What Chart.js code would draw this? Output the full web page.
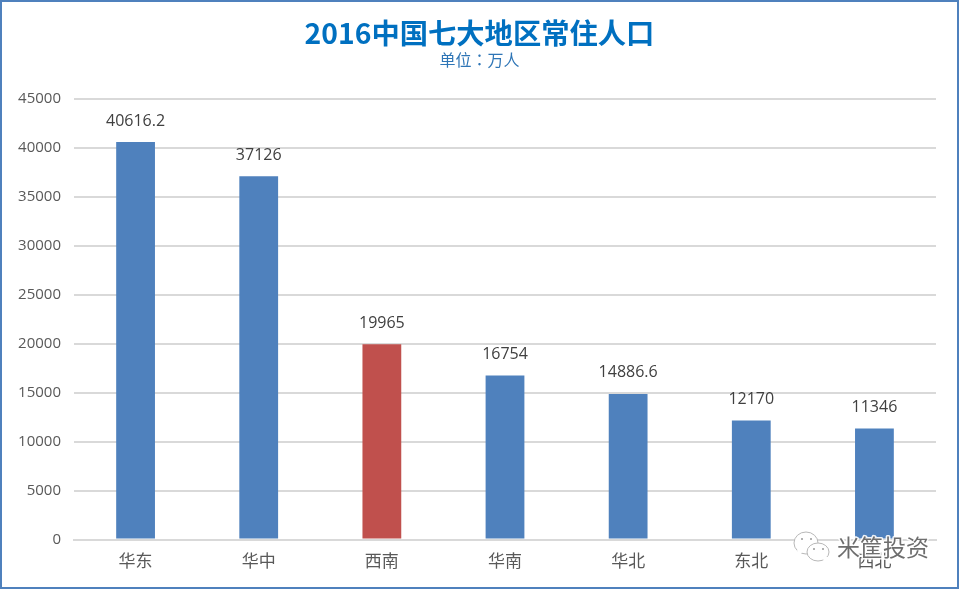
<!DOCTYPE html>
<html><head><meta charset="utf-8">
<script src="https://cdn.jsdelivr.net/npm/chart.js@4"></script>
<style>
html,body{margin:0;padding:0;background:#fff;overflow:hidden}
#wrap{position:absolute;left:0;top:0;width:959px;height:589px}
</style></head>
<body><div id="wrap"><canvas id="c" width="959" height="589"></canvas></div>
<script>
const categories = ["华东","华中","西南","华南","华北","东北","西北"];
const population = [40616.2,37126,19965,16754,14886.6,12170,11346];
const barColors = ["#4f81bd","#4f81bd","#c0504d","#4f81bd","#4f81bd","#4f81bd","#4f81bd"];
const titleText = "2016中国七大地区常住人口";
const subtitleText = "单位：万人";
const watermarkText = "米筐投资";
const FONT = '"Noto Sans CJK SC","Open Sans",sans-serif';
const NUMFONT = '"Open Sans","Noto Sans CJK SC",sans-serif';

const frame = {id:'frame',beforeDraw(ch){const x=ch.ctx;x.save();x.fillStyle='#fff';x.fillRect(0,0,ch.width,ch.height);x.restore();},
 afterDraw(ch){const x=ch.ctx;x.save();x.strokeStyle='#4f81bd';x.lineWidth=2;x.strokeRect(1,1,ch.width-2,ch.height-2);x.restore();}};

const labels = {id:'labels',afterDatasetsDraw(ch){
  const x=ch.ctx;x.save();x.font='16px '+NUMFONT;x.fillStyle='#404040';x.textAlign='center';x.textBaseline='bottom';
  ch.getDatasetMeta(0).data.forEach((b,i)=>{x.fillText(String(population[i]),b.x,b.y-13);});
  x.restore();}};

function bubble(x,cx,cy,rx,ry,tx,ty){
  x.beginPath();x.ellipse(cx,cy,rx,ry,0,0,Math.PI*2);x.fillStyle='#fff';x.fill();x.stroke();
  x.beginPath();x.moveTo(cx+tx-3,cy+ty-2);x.lineTo(cx+tx,cy+ty+4);x.lineTo(cx+tx+3,cy+ty-2);x.fill();
}
const watermark = {id:'watermark',afterDraw(ch){
  const x=ch.ctx;x.save();
  x.strokeStyle='#b8b8b8';x.lineWidth=1;
  bubble(x,806,543,12,11,-6,9);
  bubble(x,818,552,11,9,7,7);
  x.fillStyle='#999';
  [[802,539],[811,539],[814,549],[823,549]].forEach(p=>{x.beginPath();x.arc(p[0],p[1],1,0,Math.PI*2);x.fill();});
  x.font='23px '+FONT;x.textAlign='left';x.textBaseline='middle';
  x.lineJoin='round';x.lineWidth=3;x.strokeStyle='rgba(255,255,255,0.9)';
  x.strokeText(watermarkText,837,547);
  x.fillStyle='#6e6e6e';x.fillText(watermarkText,837,547);
  x.restore();}};

new Chart(document.getElementById('c'),{
  type:'bar',
  data:{labels:categories,datasets:[{data:population,backgroundColor:barColors,barPercentage:1,categoryPercentage:0.315}]},
  plugins:[frame,labels,watermark],
  options:{
    responsive:false,animation:false,devicePixelRatio:1,
    layout:{padding:{top:0,left:0,right:0,bottom:7}},
    plugins:{
      legend:{display:false},tooltip:{enabled:false},
      title:{display:true,text:titleText,color:'#0070c0',font:{family:FONT,size:28.3,weight:'bold',lineHeight:1.2},padding:{top:16,bottom:0}},
      subtitle:{display:true,text:subtitleText,color:'#2e75b6',font:{family:'"Noto Sans CJK TC","Noto Sans CJK SC",sans-serif',size:16,lineHeight:1.2},padding:{top:0,bottom:30}}
    },
    scales:{
      x:{grid:{display:false,drawTicks:false},border:{color:'#d9d9d9',width:2},
         ticks:{color:'#595959',font:{family:FONT,size:17},padding:11,maxRotation:0}},
      y:{min:0,max:45000,grid:{color:'#d9d9d9',lineWidth:2,drawTicks:false},border:{display:false},
         afterFit(s){s.width=74;},
         ticks:{stepSize:5000,callback:v=>String(v),color:'#595959',font:{family:NUMFONT,size:15},padding:13}},
      yRight:{position:'right',min:0,max:45000,grid:{display:false,drawTicks:false},border:{display:false},
         ticks:{display:false},afterFit(s){s.width=23;}}
    }
  }
});
</script></body></html>
